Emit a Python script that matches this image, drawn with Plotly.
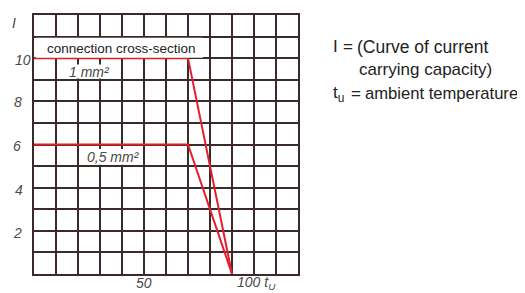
import plotly.graph_objects as go

# data
temp_1mm = [-12.5, 75, 100]
curr_1mm = [10, 10, 0]
temp_05mm = [-12.5, 75, 100]
curr_05mm = [6, 6, 0]
y_ticks = [2, 4, 6, 8, 10]
y_tick_labels = ["2", "4", "6", "8", "10"]
x_tick_labels = ["50", "100 t<sub>U</sub>"]

OFF = 8  # page body margin
W, H = 525 - OFF, 293 - OFF
L, R, T, B = 34, 298, 13, 274  # window pixel coords of plot area

def px(x):
    return (x - L) / (R - L)

def py(y):
    return (B - y) / (B - T)

GRID = "#3a2a2a"
RED = "#e41f2b"
GRAY = "#4a4a4a"
SANS = "Liberation Sans, Arial, sans-serif"

fig = go.Figure()
fig.add_trace(go.Scatter(x=temp_1mm, y=curr_1mm, mode="lines",
                         line=dict(color=RED, width=2), hoverinfo="skip"))
fig.add_trace(go.Scatter(x=temp_05mm, y=curr_05mm, mode="lines",
                         line=dict(color=RED, width=2), hoverinfo="skip"))

fig.update_layout(
    width=W, height=H,
    margin=dict(l=L - OFF, r=525 - R, t=T - OFF, b=293 - B),
    paper_bgcolor="white", plot_bgcolor="white",
    showlegend=False,
    xaxis=dict(range=[-12.5, 137.5], tick0=-12.5, dtick=12.5, showgrid=True,
               gridcolor=GRID, gridwidth=2, showticklabels=False, zeroline=False,
               showline=True, mirror=True, linecolor=GRID, linewidth=2, ticks=""),
    yaxis=dict(range=[0, 12], tick0=0, dtick=1, showgrid=True,
               gridcolor=GRID, gridwidth=2, showticklabels=False, zeroline=False,
               showline=True, mirror=True, linecolor=GRID, linewidth=2, ticks=""),
)

shapes = []
for x0, x1, y0, y1 in [(36, 203, 36, 56), (66, 113, 63, 77), (85, 142, 148, 164)]:
    shapes.append(dict(type="rect", xref="paper", yref="paper",
                       x0=px(x0), x1=px(x1), y0=py(y1), y1=py(y0),
                       fillcolor="white", line=dict(width=0), layer="above"))
fig.update_layout(shapes=shapes)

ann = []
def add(x, y, text, size, xanchor="center", color=GRAY, family=SANS):
    ann.append(dict(x=px(x), y=py(y), xref="paper", yref="paper", text=text,
                    showarrow=False, xanchor=xanchor, yanchor="middle",
                    font=dict(family=family, size=size, color=color)))

ytick_px = {2: (17, 233), 4: (19, 189), 6: (17, 145), 8: (17.5, 101), 10: (22.5, 58)}
for v, lab in zip(y_ticks, y_tick_labels):
    xx, yy = ytick_px[v]
    add(xx, yy, "<i>" + lab + "</i>", 14)
add(13.5, 21, "<i>I</i>", 14)
add(143.5, 283, "<i>" + x_tick_labels[0] + "</i>", 14)
add(235, 283, "<i>" + x_tick_labels[1] + "</i>", 14, xanchor="left")

add(121, 46.5, "connection cross-section", 13.5, color="#222222")
add(89.5, 70, "<i>1 mm²</i>", 14)
add(113.5, 156.5, "<i>0,5 mm²</i>", 14)

RC = "#222222"
add(331, 45, "I", 17, xanchor="left", color=RC)
add(341, 45, "=", 17, xanchor="left", color=RC)
add(355, 45, "(Curve of current", 17.5, xanchor="left", color=RC)
add(357, 68, "carrying capacity)", 17, xanchor="left", color=RC)
add(331, 93, "t<sub>u</sub>", 17, xanchor="left", color=RC)
add(349, 92, "=", 17, xanchor="left", color=RC)
add(363, 92, "ambient temperature", 16.6, xanchor="left", color=RC)

fig.update_layout(annotations=ann)
fig.write_html("out.html")
